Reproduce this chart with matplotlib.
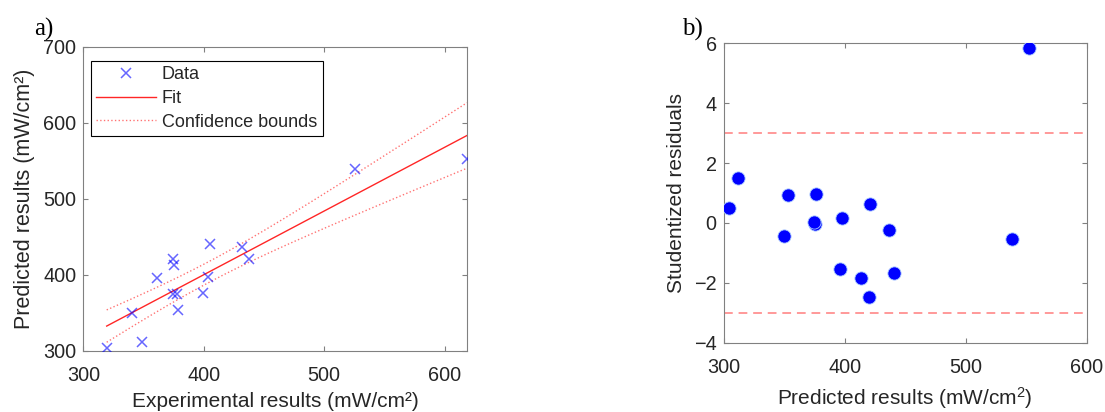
import matplotlib.pyplot as plt
import numpy as np

plt.rcParams['font.family'] = ['Liberation Sans', 'DejaVu Sans']
plt.rcParams['mathtext.fontset'] = 'custom'
plt.rcParams['mathtext.rm'] = 'Liberation Sans'
plt.rcParams['mathtext.it'] = 'Liberation Sans:italic'

# measured vs model output, one entry per sample
experimental = np.array([319.4, 340.7, 348.7, 361.2, 374.2, 375.3, 374.7, 377.5,
                         378.9, 399.6, 403.7, 405.4, 432.0, 437.8, 525.7, 618.5])
predicted = np.array([304.0, 350.0, 311.5, 396.0, 420.0, 413.2, 375.2, 374.8,
                      353.0, 376.0, 397.5, 441.0, 437.0, 421.0, 538.5, 552.3])
studentized = np.array([0.51, -0.43, 1.49, -1.55, -2.46, -1.85, -0.04, 0.04,
                        0.93, 0.96, 0.18, -1.68, -0.24, 0.62, -0.54, 5.83])
outlier_limit = 3.0

tick_color = '#262626'
spine_color = '#808080'


def style_axes(ax):
    for sp in ax.spines.values():
        sp.set_color(spine_color)
        sp.set_linewidth(0.8)
    ax.tick_params(direction='in', top=True, right=True, length=3.5, width=0.8,
                   color=spine_color, labelcolor=tick_color, labelsize=14.3)
    ax.tick_params(axis='x', pad=11)
    ax.tick_params(axis='y', pad=5)


fig = plt.figure(figsize=(11.05, 4.12), dpi=100)

# linear fit with confidence bounds
ax1 = fig.add_axes([0.0754, 0.1488, 0.3472, 0.7379])
n = len(experimental)
slope, intercept = np.polyfit(experimental, predicted, 1)
resid = predicted - (slope * experimental + intercept)
s = np.sqrt(np.sum(resid ** 2) / (n - 2))
sxx = np.sum((experimental - experimental.mean()) ** 2)
t_val = 1.9
xs = np.linspace(experimental.min(), experimental.max(), 200)
fit = slope * xs + intercept
half = t_val * s * np.sqrt(1.0 / n + (xs - experimental.mean()) ** 2 / sxx)

ax1.plot(experimental, predicted, 'x', color='blue', alpha=0.6, markersize=7.5,
         markeredgewidth=1.1, label='Data', zorder=3)
ax1.plot(xs, fit, '-', color='red', lw=1.0, alpha=0.85, label='Fit')
ax1.plot(xs, fit + half, ':', color='red', lw=1.0, alpha=0.55, label='Confidence bounds')
ax1.plot(xs, fit - half, ':', color='red', lw=1.0, alpha=0.55)

ax1.set_xlim(300, 618.5)
ax1.set_ylim(300, 700)
ax1.set_xticks([300, 400, 500, 600])
ax1.set_yticks([300, 400, 500, 600, 700])
style_axes(ax1)
ax1.set_xlabel('Experimental results (mW/cm²)', fontsize=15, color=tick_color, labelpad=5)
ax1.set_ylabel('Predicted results (mW/cm²)', fontsize=15.5, color=tick_color, labelpad=6)
leg = ax1.legend(loc='upper left', bbox_to_anchor=(0.019, 0.954), borderaxespad=0,
                 fontsize=13, handlelength=3.3, handletextpad=0.35, labelspacing=0.38,
                 fancybox=False, framealpha=1, edgecolor='black', borderpad=0.3)
leg.get_frame().set_linewidth(0.8)
for txt in leg.get_texts():
    txt.set_color(tick_color)

# studentized residuals against predicted values
ax2 = fig.add_axes([0.6549, 0.1682, 0.3285, 0.7267])
ax2.plot(predicted, studentized, 'o', color='#0000ff', markersize=9.5,
         markeredgecolor='#a8c8ff', markeredgewidth=0.6, zorder=3)
ax2.axhline(outlier_limit, color='#ff9999', lw=1.4, linestyle=(0, (4.5, 3.0)))
ax2.axhline(-outlier_limit, color='#ff9999', lw=1.4, linestyle=(0, (4.5, 3.0)))
ax2.set_xlim(300, 600)
ax2.set_ylim(-4, 6)
ax2.set_xticks([300, 400, 500, 600])
ax2.set_yticks([-4, -2, 0, 2, 4, 6])
style_axes(ax2)
ax2.set_xlabel('Predicted results (mW/cm$^2$)', fontsize=15, color=tick_color, labelpad=6)
ax2.set_ylabel('Studentized residuals', fontsize=15, color=tick_color, labelpad=6)

fig.text(0.031, 0.913, 'a)', family='Liberation Serif', fontsize=18, color='black')
fig.text(0.617, 0.913, 'b)', family='Liberation Serif', fontsize=18, color='black')

fig.savefig('out.png', dpi=100)
